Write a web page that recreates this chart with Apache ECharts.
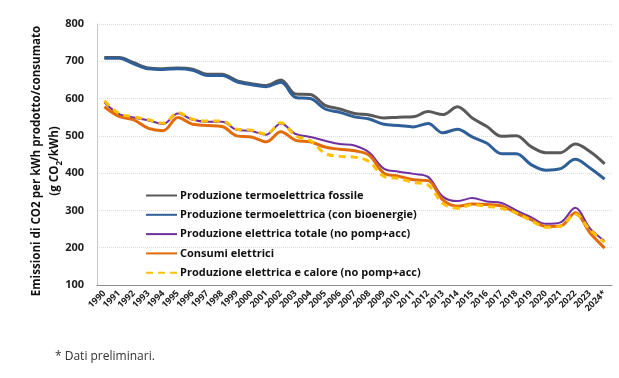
<!DOCTYPE html>
<html><head><meta charset="utf-8">
<script src="https://cdn.jsdelivr.net/npm/echarts@6/dist/echarts.min.js"></script>
<style>html,body{margin:0;padding:0;background:#fff}#c{width:619px;height:378px}</style>
</head><body><div id="c"></div>
<script>
const years = ['1990','1991','1992','1993','1994','1995','1996','1997','1998','1999','2000','2001','2002','2003','2004','2005','2006','2007','2008','2009','2010','2011','2012','2013','2014','2015','2016','2017','2018','2019','2020','2021','2022','2023','2024*'];
const fossile = [710,710,696,682,680,682,679,665,665,648,640,635,650,612,611,582,572,560,556,548,550,551,565,557,578,548,525,499,500,471,455,455,478,458,425];
const bioenergie = [708,708,693,680,678,680,676,662,662,645,637,632,644,603,600,572,563,551,545,531,528,524,533,508,518,497,480,452,452,423,408,412,437,414,384];
const totale = [590,558,549,541,532,560,543,538,538,516,513,503,533,505,497,487,478,474,455,412,404,398,390,337,325,333,324,320,300,282,264,268,307,252,218];
const consumi = [578,552,543,520,514,549,531,528,525,500,497,484,511,488,484,470,464,460,448,400,392,382,380,328,311,317,316,312,293,275,257,258,294,240,199];
const calore = [594,560,551,543,534,562,545,540,540,518,515,505,535,500,487,453,445,443,431,391,386,375,368,319,306,315,311,306,293,273,255,258,290,248,215];
const names = ['Produzione termoelettrica fossile','Produzione termoelettrica (con bioenergie)','Produzione elettrica totale (no pomp+acc)','Consumi elettrici','Produzione elettrica e calore (no pomp+acc)'];
const yTitle = 'Emissioni di CO2 per kWh prodotto/consumato\n(g CO{s|2}/kWh)';

const chart = echarts.init(document.getElementById('c'));
const FONT = '"Open Sans", "Noto Sans", sans-serif';
function mk(name, data, color, width, type) {
  return {name, type:'line', data, smooth:0.35, symbol:'none',
    lineStyle:{color, width, type: type||'solid', cap:'butt'}, itemStyle:{color}};
}
const solidIcon = 'path://M0,4L31,4L31,6L0,6Z';
const dashIcon = 'path://M0,4h7v2h-7z M12,4h7v2h-7z M24,4h7v2h-7z';
chart.setOption({
  animation:false,
  grid:{left:97, right:7, top:24, bottom:93},
  legend:{
    orient:'vertical', left:141, top:185, itemWidth:31, itemHeight:10, itemGap:8.3,
    textStyle:{fontFamily:FONT, fontSize:11, fontWeight:'bold', color:'#111', padding:[0,0,0,-2]},
    data: names.map((n,i)=>({name:n, icon: i===4 ? dashIcon : solidIcon}))
  },
  xAxis:{type:'category', data:years, boundaryGap:true,
    axisLine:{lineStyle:{color:'#8c8c8c', width:1}},
    axisTick:{show:false},
    axisLabel:{interval:0, rotate:45, margin:7, fontFamily:FONT, fontSize:9, fontWeight:'bold', color:'#222'}},
  yAxis:{type:'value', min:100, max:800, interval:100,
    axisLine:{show:true, lineStyle:{color:'#c8c8c8'}},
    splitLine:{lineStyle:{color:'#dcdcdc', type:'dotted'}},
    axisLabel:{margin:13, fontFamily:FONT, fontSize:11, fontWeight:'bold', color:'#222'}
  },
  graphic:[
    {type:'text', left:55, top:351, style:{text:'* Dati preliminari.', font:'12px "Open Sans", sans-serif', fill:'#333'}},
    {type:'text', x:46, y:161, rotation:Math.PI/2,
      style:{text:yTitle, fontFamily:FONT, fontSize:11.6, fontWeight:'bold', fill:'#111', lineHeight:18,
        align:'center', verticalAlign:'middle',
        rich:{s:{fontFamily:FONT, fontSize:8, fontWeight:'bold', fill:'#111', verticalAlign:'bottom', padding:[6,0,0,0]}}}}
  ],
  series:[
    mk(names[0], fossile, '#595959', 3),
    mk(names[1], bioenergie, '#2f5f98', 3),
    mk(names[2], totale, '#7030a0', 2),
    mk(names[3], consumi, '#e36c0a', 3),
    mk(names[4], calore, '#ffc000', 3, [7,5])
  ]
});
</script></body></html>
